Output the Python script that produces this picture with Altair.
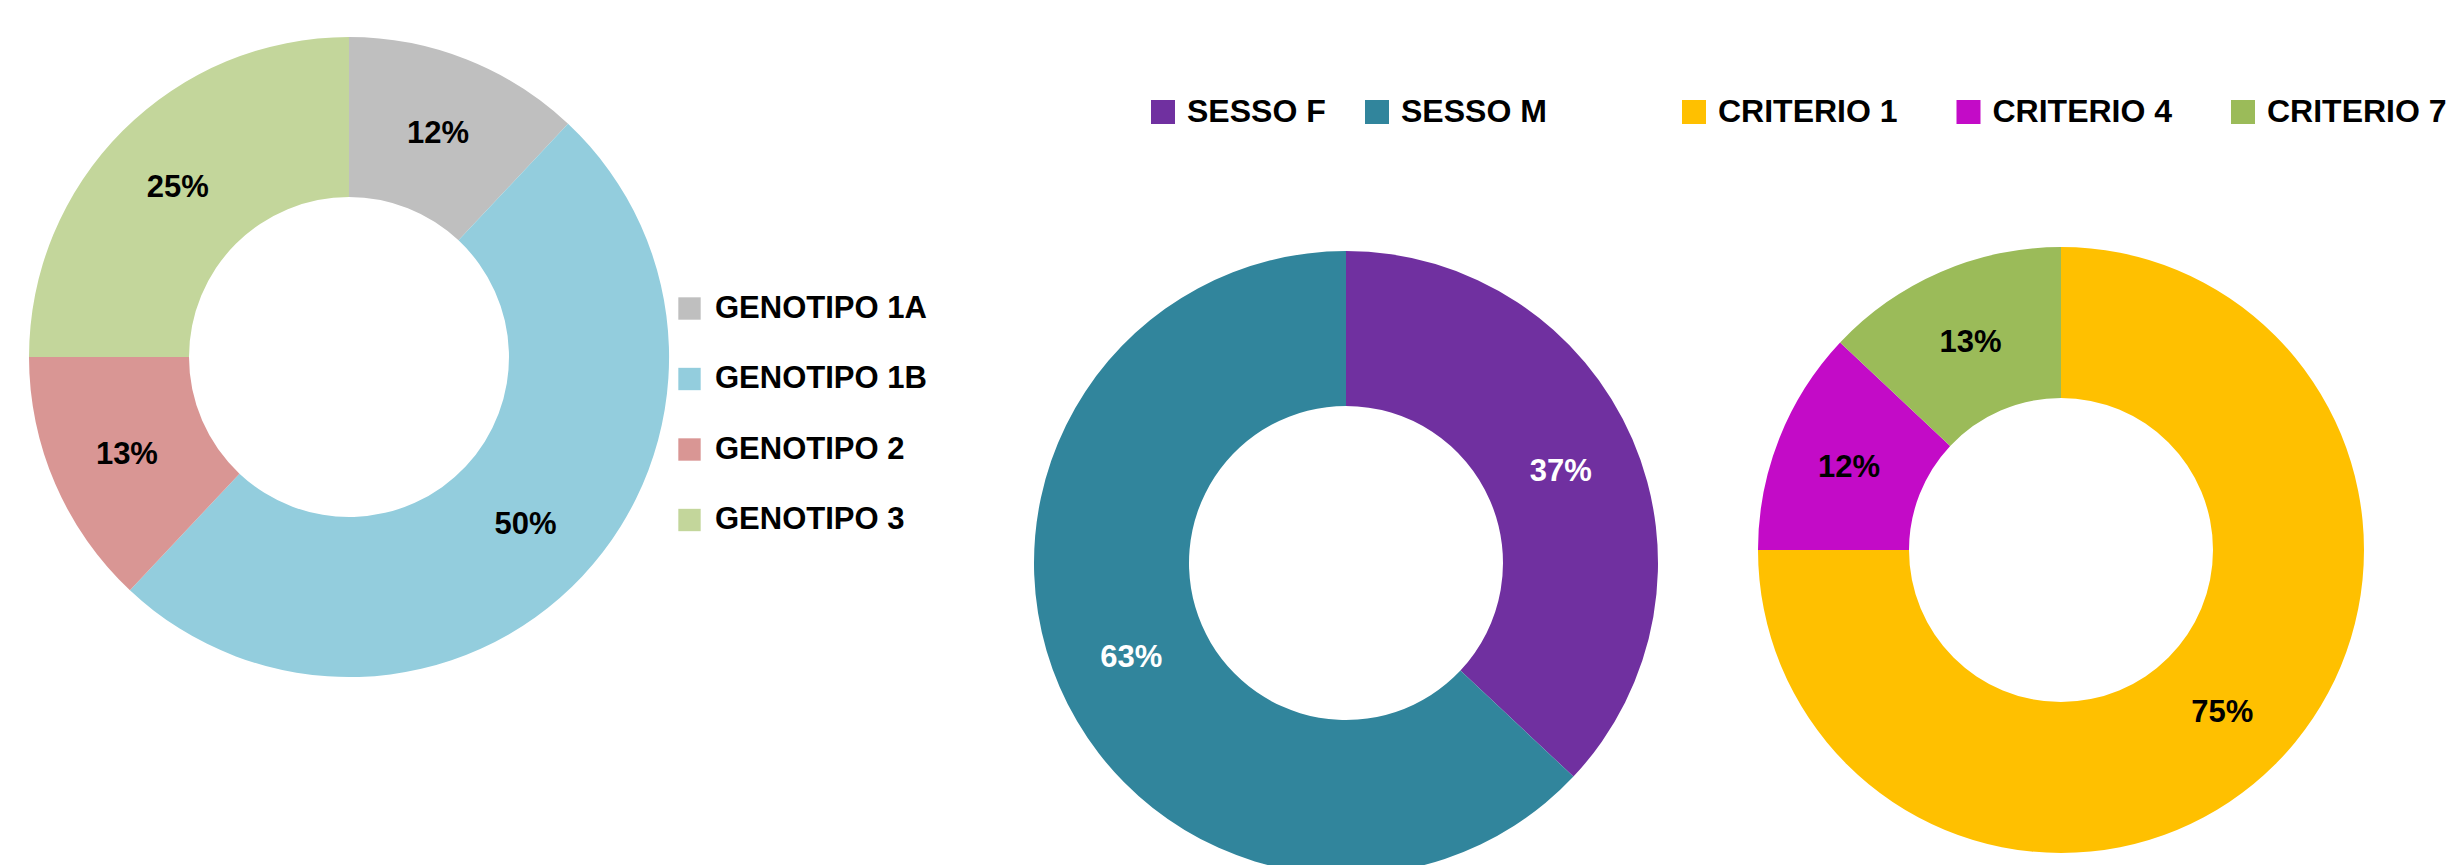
import altair as alt
import pandas as pd

# ---- data ----
geno_cats = ["GENOTIPO 1A", "GENOTIPO 1B", "GENOTIPO 2", "GENOTIPO 3"]
geno_vals = [12, 50, 13, 25]
geno_colors = ["#BFBFBF", "#93CDDD", "#D99694", "#C3D69B"]

sesso_cats = ["SESSO F", "SESSO M"]
sesso_vals = [37, 63]
sesso_colors = ["#7030A0", "#31859C"]

crit_cats = ["CRITERIO 1", "CRITERIO 4", "CRITERIO 7"]
crit_vals = [75, 12, 13]
crit_colors = ["#FFC000", "#C30BC7", "#9BBB59"]

FONT = "Liberation Sans"


def frame(cats, vals):
    return pd.DataFrame({
        "cat": cats,
        "val": vals,
        "idx": list(range(len(cats))),
        "label": [f"{v}%" for v in vals],
    })


def donut(cats, vals, colors, cx, cy, r_in, r_out, r_lab, text_color, legend):
    df = frame(cats, vals)
    base = alt.Chart(df).encode(
        theta=alt.Theta("val:Q", stack=True),
        order=alt.Order("idx:Q"),
        x=alt.value(cx),
        y=alt.value(cy),
    )
    arc = base.mark_arc(innerRadius=r_in, outerRadius=r_out).encode(
        color=alt.Color("cat:N", scale=alt.Scale(domain=cats, range=colors), legend=legend)
    )
    text = base.mark_text(
        radius=r_lab, font=FONT, fontSize=31, fontWeight="bold",
        color=text_color, align="center", baseline="middle", dy=2,
    ).encode(text="label:N", detail="cat:N")
    return alt.layer(arc, text)


def legend(x, y, direction, size, fs, offset, row_pad=0, col_pad=0):
    return alt.Legend(
        orient="none", legendX=x, legendY=y, direction=direction, title=None,
        symbolType="square", symbolSize=size, symbolStrokeWidth=0,
        labelFont=FONT, labelFontSize=fs, labelFontWeight="bold", labelColor="black",
        labelOffset=offset, rowPadding=row_pad, columnPadding=col_pad, padding=0,
        labelLimit=400,
    )


d1 = donut(geno_cats, geno_vals, geno_colors, 349, 357, 160, 320, 242, "black",
           legend(674, 293, "vertical", 500, 31, 10, row_pad=38.5))
d2 = donut(sesso_cats, sesso_vals, sesso_colors, 1346, 563, 157, 312, 234, "white",
           legend(1147, 96, "horizontal", 576, 32, 8, col_pad=35))
d3 = donut(crit_cats, crit_vals, crit_colors, 2061, 550, 152, 303, 228, "black",
           legend(1678, 96, "horizontal", 576, 32, 8, col_pad=54.5))

chart = (
    alt.layer(d1, d2, d3)
    .resolve_scale(color="independent", theta="independent")
    .properties(width=2450, height=865, padding=0,
                autosize=alt.AutoSizeParams(type="none"), background="white")
    .configure_view(stroke=None)
)

chart.save("out.html", embed_options={"renderer": "svg", "actions": False})
